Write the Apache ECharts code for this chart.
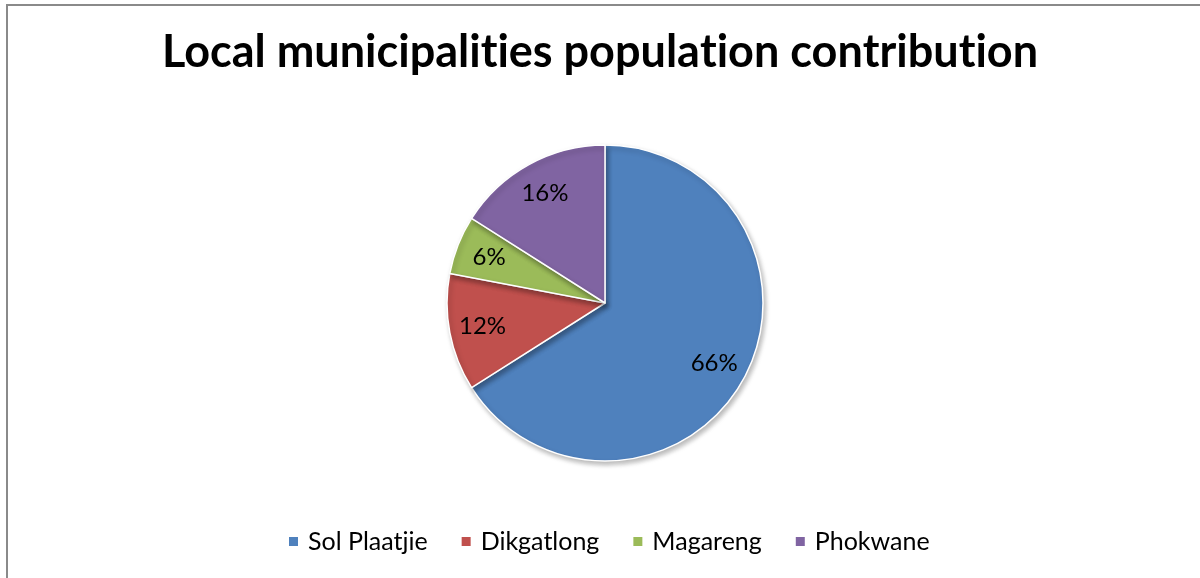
<!DOCTYPE html>
<html>
<head>
<meta charset="utf-8">
<script src="https://cdn.jsdelivr.net/npm/echarts@6/dist/echarts.min.js"></script>
<style>
  html, body { margin: 0; padding: 0; background: #fff; }
  #chart { width: 1200px; height: 578px; }
</style>
</head>
<body>
<div id="chart"></div>
<script>
// Population share of each local municipality (percent)
const municipalities = ['Sol Plaatjie', 'Dikgatlong', 'Magareng', 'Phokwane'];
const shares = [66, 12, 6, 16];
const sliceColors = ['#4F81BD', '#C0504D', '#9BBB59', '#8064A2'];
const titleText = 'Local municipalities population contribution';

const FONT = 'Lato, "Open Sans", sans-serif';
const pieData = municipalities.map((name, i) => ({ name, value: shares[i] }));
const R = 158;

// Draw each "t" as its own rich-text run so Lato does not fuse "ti" into a ligature
const titleRich = titleText.replace(/t/g, '{t|t}');
const titleStyle = { fontFamily: FONT, fontWeight: 'bold', fontSize: 45, color: '#000' };

const chart = echarts.init(document.getElementById('chart'), null, { renderer: 'canvas' });
chart.setOption({
  animation: false,
  color: sliceColors,
  title: {
    text: titleRich,
    left: 'center',
    top: 25,
    textStyle: Object.assign({}, titleStyle, { rich: { t: titleStyle } })
  },
  legend: {
    top: 524,
    left: 282,
    itemWidth: 11,
    itemHeight: 11,
    itemGap: 32,
    icon: 'rect',
    textStyle: { fontFamily: FONT, fontSize: 25, color: '#000', padding: [0, 0, 0, 4] },
    data: municipalities
  },
  graphic: [{
    type: 'rect',
    shape: { x: 7, y: 5, width: 1300, height: 700 },
    style: { fill: 'none', stroke: '#8a8a8a', lineWidth: 2 },
    silent: true
  }],
  series: [
    {
      type: 'pie',
      center: [605, 303],
      radius: [0, R],
      startAngle: 90,
      clockwise: true,
      data: pieData,
      label: { show: false },
      labelLine: { show: false },
      itemStyle: {
        borderColor: '#fff',
        borderWidth: 1.5,
        shadowBlur: 5,
        shadowOffsetX: 2,
        shadowOffsetY: 3,
        shadowColor: 'rgba(0,0,0,0.28)'
      },
      emphasis: { disabled: true }
    },
    {
      // transparent ring that only carries the percentage labels
      type: 'pie',
      center: [605, 303],
      radius: [R * 0.54, R],
      startAngle: 90,
      clockwise: true,
      data: pieData,
      silent: true,
      itemStyle: { color: 'rgba(0,0,0,0)' },
      label: {
        show: true,
        position: 'inside',
        formatter: p => p.value + '%',
        fontFamily: FONT,
        fontSize: 24,
        color: '#000'
      },
      labelLine: { show: false },
      emphasis: { disabled: true }
    }
  ]
});
</script>
</body>
</html>
